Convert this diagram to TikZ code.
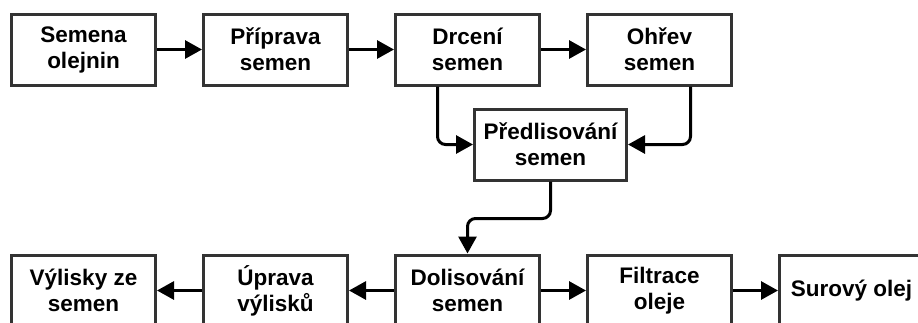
\documentclass[tikz,border=0pt]{standalone}
\usepackage{fontspec}
\setmainfont{Liberation Sans}
\usepackage{xcolor}
\usepackage{tikz}
\usetikzlibrary{arrows.meta, positioning}

\definecolor{boxline}{HTML}{333333}

\begin{document}
\begin{tikzpicture}[
  x=1pt, y=1pt,
  node distance=45pt,
  box/.style={draw=boxline, line width=3pt, align=center, minimum height=71pt, minimum width=144pt, inner sep=2pt, font=\fontsize{22.5}{26}\selectfont\bfseries},
  arrow/.style={-{Triangle[length=17pt, width=18pt]}, line width=3pt, rounded corners=8pt}
]
\useasboundingbox (0,0) rectangle (918,-322);
\clip (0,0) rectangle (918,-322);

% top row
\node[box] (semena) at (83.5,-49.5) {Semena\\olejnin};
\node[box, right=of semena] (priprava) {Příprava\\semen};
\node[box, right=of priprava] (drceni) {Drcení\\semen};
\node[box, right=of drceni] (ohrev) {Ohřev\\semen};

\draw[arrow] (semena) -- (priprava);
\draw[arrow] (priprava) -- (drceni);
\draw[arrow] (drceni) -- (ohrev);

% middle
\node[box, minimum width=152pt] (predlis) at (550.5,-144.5) {Předlisování\\semen};
\draw[arrow] ([xshift=-30pt]drceni.south) |- (predlis.west);
\draw[arrow] ([xshift=31pt]ohrev.south) |- (predlis.east);

% bottom row
\node[box, below=167pt of drceni] (dolis) {Dolisování\\semen};
\node[box, left=of dolis] (uprava) {Úprava\\výlisků};
\node[box, left=of uprava] (vylisky) {Výlisky ze\\semen};
\node[box, right=of dolis] (filtrace) {Filtrace\\oleje};
\node[box, right=of filtrace] (surovy) {Surový olej};

\draw[arrow] (predlis.south) -- ++(0,-37) -| (dolis.north);
\draw[arrow] (dolis) -- (uprava);
\draw[arrow] (uprava) -- (vylisky);
\draw[arrow] (dolis) -- (filtrace);
\draw[arrow] (filtrace) -- (surovy);
\end{tikzpicture}
\end{document}
